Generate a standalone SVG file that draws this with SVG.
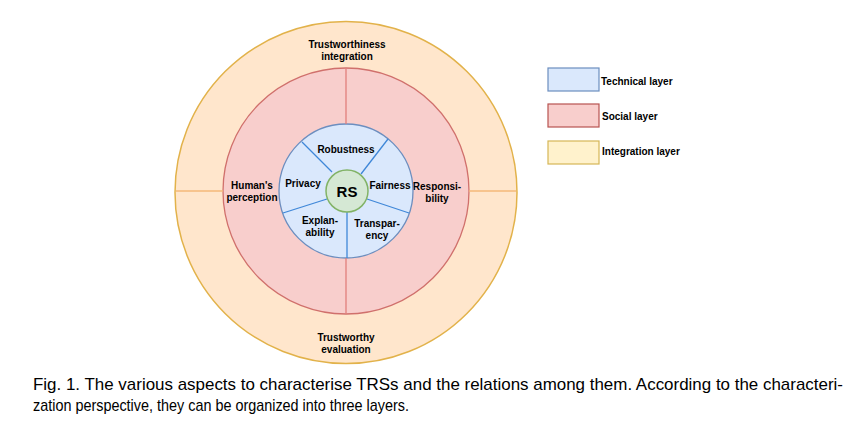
<svg xmlns="http://www.w3.org/2000/svg" width="865" height="421" viewBox="0 0 865 421">
<style>
.lbl{font-family:"Liberation Sans",Arial,Helvetica,sans-serif;font-weight:bold;font-size:10px;fill:#000;text-anchor:middle}
.leg{font-family:"Liberation Sans",Arial,Helvetica,sans-serif;font-weight:bold;font-size:10px;fill:#000}
.cap{font-family:"Liberation Sans",Arial,sans-serif;font-size:17px;fill:#000}
.tdiv{stroke:#3f87d8;stroke-width:1.3;fill:none}
.sdiv{stroke:#e07f7c;stroke-width:1.3;fill:none}
.odiv{stroke:#f5b87a;stroke-width:1.3;fill:none}
</style>
<rect x="0" y="0" width="865" height="421" fill="#fff"/>
<g id="integration-layer">
<circle cx="346" cy="192.5" r="171" fill="#ffe6cc" stroke="#e2b24a" stroke-width="1.5"/>
<text class="lbl" x="347" y="48">Trustworthiness</text>
<text class="lbl" x="347" y="60">integration</text>
<text class="lbl" x="346" y="341">Trustworthy</text>
<text class="lbl" x="346" y="353">evaluation</text>
</g>
<g id="social-layer">
<circle cx="346" cy="191" r="123" fill="#f8cecc" stroke="#d0706c" stroke-width="1.3"/>
<text class="lbl" x="252" y="189">Human's</text>
<text class="lbl" x="252" y="201">perception</text>
<text class="lbl" x="437" y="190">Responsi-</text>
<text class="lbl" x="437" y="202">bility</text>
</g>
<g id="technical-layer">
<circle cx="346" cy="191" r="67" fill="#dae8fc" stroke="#6c8ebf" stroke-width="1.3"/>
<text class="lbl" x="346" y="153">Robustness</text>
<text class="lbl" x="303" y="187">Privacy</text>
<text class="lbl" x="390" y="189">Fairness</text>
<text class="lbl" x="320" y="224">Explan-</text>
<text class="lbl" x="320" y="236">ability</text>
<text class="lbl" x="377" y="227">Transpar-</text>
<text class="lbl" x="377" y="239">ency</text>
</g>
<g id="connectors">
<line class="odiv" x1="176" y1="191" x2="223" y2="191"/>
<line class="odiv" x1="469" y1="191" x2="516" y2="191"/>
<line class="sdiv" x1="346" y1="68" x2="346" y2="124"/>
<line class="sdiv" x1="346" y1="258" x2="346" y2="314"/>
<line class="tdiv" x1="302" y1="142" x2="332" y2="172"/>
<line class="tdiv" x1="388" y1="139" x2="361" y2="174"/>
<line class="tdiv" x1="367" y1="199" x2="409" y2="213"/>
<line class="tdiv" x1="347" y1="212" x2="347" y2="258"/>
<line class="tdiv" x1="327" y1="199" x2="283" y2="213"/>
</g>
<g id="rs">
<circle cx="347" cy="191" r="21" fill="#d5e8d4" stroke="#82b366" stroke-width="1.5"/>
<text class="lbl" x="347" y="196.5" style="font-size:15px">RS</text>
</g>
<g id="legend">
<rect x="548" y="68" width="51" height="23" fill="#dae8fc" stroke="#6c8ebf" stroke-width="1.2"/>
<text class="leg" x="601" y="85">Technical layer</text>
<rect x="548" y="104" width="51" height="23" fill="#f8cecc" stroke="#b85450" stroke-width="1.2"/>
<text class="leg" x="602" y="120">Social layer</text>
<rect x="548" y="141" width="51" height="23" fill="#fff2cc" stroke="#d6b656" stroke-width="1.2"/>
<text class="leg" x="602" y="155">Integration layer</text>
</g>
<g id="caption">
<text class="cap" x="33" y="390" textLength="810" lengthAdjust="spacingAndGlyphs">Fig. 1.  The various aspects to characterise TRSs and the relations among them. According to the characteri-</text>
<text class="cap" x="33" y="411" textLength="376" lengthAdjust="spacingAndGlyphs">zation perspective, they can be organized into three layers.</text>
</g>
</svg>
